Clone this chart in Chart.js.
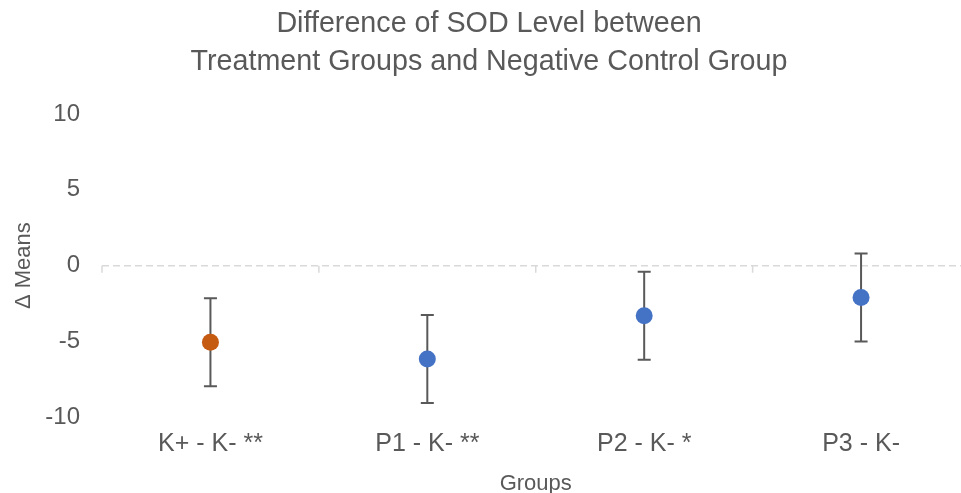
<!DOCTYPE html>
<html>
<head>
<meta charset="utf-8">
<script src="https://cdn.jsdelivr.net/npm/chart.js@4/dist/chart.umd.min.js"></script>
<style>
  html, body { margin: 0; padding: 0; background: #fff; overflow: hidden; }
  #wrap { width: 978px; height: 493px; }
</style>
</head>
<body>
<div id="wrap"><canvas id="chart" width="978" height="493"></canvas></div>
<script>
// Difference of SOD level vs negative control — mean with error bars per group.

const groups = ['K+ - K- **', 'P1 - K- **', 'P2 - K- *', 'P3 - K-'];
const means = [-5.05, -6.15, -3.3, -2.1];
const errors = [2.9, 2.9, 2.9, 2.9];
const pointColors = ['#c55a11', '#4472c4', '#4472c4', '#4472c4'];

const yMin = -10;
const yMax = 10;
const yStep = 5;

const FONT = '"Liberation Sans", Arial, sans-serif';
const TEXT = '#595959';

// error bars drawn behind the markers
const errorBars = {
  id: 'errorBars',
  beforeDatasetsDraw(chart) {
    const meta = chart.getDatasetMeta(0);
    const y = chart.scales.y;
    const ctx = chart.ctx;
    ctx.save();
    ctx.strokeStyle = '#595959';
    ctx.lineWidth = 2;
    meta.data.forEach((pt, i) => {
      const top = y.getPixelForValue(means[i] + errors[i]);
      const bot = y.getPixelForValue(means[i] - errors[i]);
      ctx.beginPath();
      ctx.moveTo(pt.x, top);
      ctx.lineTo(pt.x, bot);
      ctx.moveTo(pt.x - 6.5, top);
      ctx.lineTo(pt.x + 6.5, top);
      ctx.moveTo(pt.x - 6.5, bot);
      ctx.lineTo(pt.x + 6.5, bot);
      ctx.stroke();
    });
    ctx.restore();
  },
};

// small category tick marks hanging below the zero line
const zeroTicks = {
  id: 'zeroTicks',
  beforeDatasetsDraw(chart) {
    const x = chart.scales.x;
    const y0 = chart.scales.y.getPixelForValue(0);
    const ctx = chart.ctx;
    const n = groups.length;
    ctx.save();
    ctx.strokeStyle = '#d9d9d9';
    ctx.lineWidth = 1.5;
    for (let i = 0; i <= n; i++) {
      const px = x.left + i * (x.width / n);
      ctx.beginPath();
      ctx.moveTo(px, y0);
      ctx.lineTo(px, y0 + 7);
      ctx.stroke();
    }
    ctx.restore();
  },
};

new Chart(document.getElementById('chart'), {
  type: 'line',
  data: {
    labels: groups,
    datasets: [{
      data: means,
      showLine: false,
      pointRadius: 8.5,
      pointHoverRadius: 8.5,
      pointBackgroundColor: pointColors,
      pointBorderColor: pointColors,
      pointBorderWidth: 0,
    }],
  },
  options: {
    responsive: false,
    animation: false,
    layout: { padding: 0 },
    plugins: {
      legend: { display: false },
      tooltip: { enabled: false },
      title: {
        display: true,
        text: ['Difference of SOD Level between', 'Treatment Groups and Negative Control Group'],
        color: TEXT,
        font: { family: FONT, size: 28.7, weight: 'normal', lineHeight: 1.324 },
        padding: { top: 5, bottom: 33 },
      },
    },
    scales: {
      x: {
        offset: true,
        grid: { display: false, drawTicks: false },
        border: { display: false },
        ticks: {
          color: TEXT,
          padding: 12,
          font: { family: FONT, size: 25, lineHeight: 1.2 },
        },
        title: {
          display: true,
          text: 'Groups',
          color: TEXT,
          font: { family: FONT, size: 22, lineHeight: 0.8 },
          padding: { top: 4, bottom: 0 },
        },
      },
      y: {
        min: yMin,
        max: yMax,
        afterFit: s => { s.width = 102; },
        grid: {
          drawTicks: false,
          lineWidth: 1.5,
          color: c => (c.tick && c.tick.value === 0 ? '#d9d9d9' : 'rgba(0,0,0,0)'),
        },
        border: { display: false, dash: [7, 4] },
        ticks: {
          stepSize: yStep,
          color: TEXT,
          padding: 22,
          font: { family: FONT, size: 24 },
        },
        title: {
          display: true,
          text: 'Δ Means',
          color: TEXT,
          font: { family: FONT, size: 22, lineHeight: 1 },
          padding: { top: 13, bottom: 10 },
        },
      },
    },
  },
  plugins: [errorBars, zeroTicks],
});
</script>
</body>
</html>
